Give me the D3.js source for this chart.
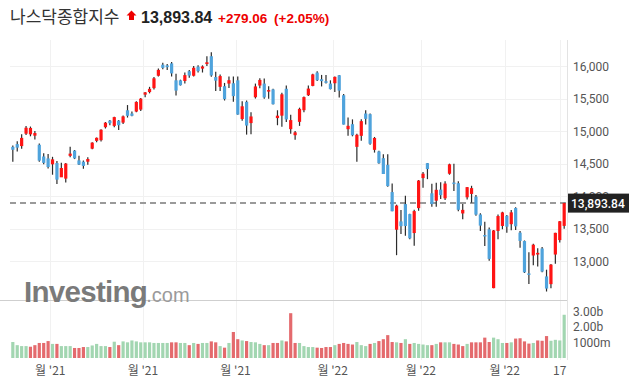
<!DOCTYPE html>
<html><head><meta charset="utf-8">
<script src="https://cdn.jsdelivr.net/npm/d3@7"></script>
<style>body{margin:0;background:#fff}svg{display:block}</style>
</head><body><svg id="c" width="634" height="388"></svg>
<script>
const dates = [
"2021-09-20","2021-09-21","2021-09-22","2021-09-23","2021-09-24","2021-09-27","2021-09-28","2021-09-29","2021-09-30",
"2021-10-01","2021-10-04","2021-10-05","2021-10-06","2021-10-07","2021-10-08","2021-10-11","2021-10-12","2021-10-13","2021-10-14","2021-10-15","2021-10-18","2021-10-19","2021-10-20","2021-10-21","2021-10-22","2021-10-25","2021-10-26","2021-10-27","2021-10-28","2021-10-29",
"2021-11-01","2021-11-02","2021-11-03","2021-11-04","2021-11-05","2021-11-08","2021-11-09","2021-11-10","2021-11-11","2021-11-12","2021-11-15","2021-11-16","2021-11-17","2021-11-18","2021-11-19","2021-11-22","2021-11-23","2021-11-24","2021-11-26","2021-11-29","2021-11-30",
"2021-12-01","2021-12-02","2021-12-03","2021-12-06","2021-12-07","2021-12-08","2021-12-09","2021-12-10","2021-12-13","2021-12-14","2021-12-15","2021-12-16","2021-12-17","2021-12-20","2021-12-21","2021-12-22","2021-12-23","2021-12-27","2021-12-28","2021-12-29","2021-12-30","2021-12-31",
"2022-01-03","2022-01-04","2022-01-05","2022-01-06","2022-01-07","2022-01-10","2022-01-11","2022-01-12","2022-01-13","2022-01-14","2022-01-18","2022-01-19","2022-01-20","2022-01-21","2022-01-24","2022-01-25","2022-01-26","2022-01-27","2022-01-28","2022-01-31",
"2022-02-01","2022-02-02","2022-02-03","2022-02-04","2022-02-07","2022-02-08","2022-02-09","2022-02-10","2022-02-11","2022-02-14","2022-02-15","2022-02-16","2022-02-17","2022-02-18","2022-02-22","2022-02-23","2022-02-24","2022-02-25","2022-02-28",
"2022-03-01","2022-03-02","2022-03-03","2022-03-04","2022-03-07","2022-03-08","2022-03-09","2022-03-10","2022-03-11","2022-03-14","2022-03-15","2022-03-16","2022-03-17","2022-03-18"];

const open = [14758,14800,14770,14960,14950,14930,14790,14610,14580,
14490,14510,14290,14270,14620,14700,14550,14530,14530,14730,14850,14860,15060,15160,15080,15160,15130,15320,15270,15300,15330,
15560,15600,15660,15850,16020,16010,16040,15780,15780,15770,15920,15850,15990,15960,16030,16150,15830,15680,15690,15730,15735,
15780,15185,15450,15123,15520,15700,15730,15610,15640,15200,15237,15650,15030,14937,15142,15321,15551,15694,15899,15797,15766,15730,
15735,15858,15551,15029,15106,14758,14927,15270,15260,14712,14687,14584,14482,14063,13485,13613,13879,13725,13434,13817,
14278,14508,14045,13931,14102,13967,14345,14210,14200,13735,13983,14035,13993,13719,13404,13492,12588,13466,13543,
13699,13570,13818,13440,13311,12814,13089,13104,13197,12768,12649,13104,13326,13544];
const high = [14779,14843,14950,15080,15070,15000,14810,14660,14650,
14605,14540,14514,14510,14760,14710,14620,14550,14600,14830,14900,15030,15140,15170,15220,15170,15240,15400,15300,15460,15510,
15600,15680,15830,15960,16050,16030,16060,15880,15790,15900,15940,16000,16010,16010,16150,16212,15910,15870,15740,15840,15840,
15840,15460,15470,15290,15730,15810,15808,15689,15650,15320,15590,15700,15250,15000,15360,15530,15700,15880,15920,15863,15860,15780,
15840,15860,15570,15209,15180,14960,15183,15321,15270,14910,14700,14646,14646,14196,13870,13787,14006,13730,13790,14250,
14370,14510,14190,14205,14216,14230,14500,14500,14230,13880,14140,14160,14020,13740,13606,13520,13480,13720,13761,
13710,13787,13830,13466,13320,13140,13270,13200,13220,12871,12959,13440,13620,13900];
const low = [14530,14686,14730,14940,14920,14870,14530,14490,14427,
14330,14186,14299,14210,14600,14570,14480,14420,14484,14720,14830,14840,15040,15090,15060,15018,15110,15208,15230,15290,15310,
15520,15580,15640,15840,15950,15940,15840,15548,15700,15730,15820,15840,15900,15900,16000,15834,15616,15616,15470,15663,15450,
15252,15159,14946,14951,15500,15660,15497,15497,15408,15090,15067,15140,14960,14866,15080,15290,15540,15690,15770,15686,15730,15640,
15600,15515,15100,14928,14920,14529,14851,15100,14789,14670,14500,14340,14145,13770,13094,13418,13393,13340,13239,13776,
14130,14262,13838,13838,13957,13940,14330,14080,13770,13647,13950,13900,13700,13466,13234,13010,12587,13337,13492,
13440,13476,13480,13207,12820,12650,12939,12920,12830,12536,12587,12964,13290,13500];
const close = [14713,14746,14896,15052,15048,14970,14546,14512,14448,
14566,14255,14433,14501,14654,14580,14486,14465,14571,14823,14897,15021,15129,15121,15215,15090,15226,15235,15235,15448,15498,
15595,15649,15811,15940,15971,15982,15886,15622,15704,15860,15853,15973,15921,15993,16057,15854,15775,15845,15491,15782,15537,
15254,15381,15085,15225,15686,15786,15517,15630,15413,15237,15565,15180,15169,14981,15341,15522,15653,15871,15782,15767,15741,15645,
15833,15622,15100,15081,14936,14943,15153,15188,14806,14894,14506,14341,14155,13769,13856,13539,13542,13353,13771,14240,
14346,14417,13879,14098,14015,14194,14490,14186,13791,13790,14139,14124,13717,13548,13381,13037,13474,13695,13751,
13532,13752,13537,13313,12831,12795,13255,13130,12843,12581,12949,13437,13615,13894];
// volume in billions
const volume = [1.02,0.82,0.76,0.76,0.72,0.82,0.96,0.96,1.08,0.90,0.90,0.76,0.76,0.76,0.64,0.64,0.70,0.70,0.80,0.90,0.76,0.76,0.70,1.04,0.82,1.06,1.00,1.12,1.06,1.00,1.00,
1.00,0.96,0.96,0.96,0.96,1.00,1.00,0.96,0.96,0.82,0.96,0.90,0.96,0.96,1.06,1.00,0.76,0.66,0.96,1.66,
1.20,1.12,1.08,1.02,1.00,0.90,0.82,0.82,0.96,0.96,1.12,1.06,2.86,0.96,0.96,0.76,0.70,0.70,0.66,0.64,0.70,0.70,
0.82,0.90,0.96,0.90,0.86,1.02,0.82,0.76,0.90,0.96,1.08,1.20,1.46,1.02,1.00,0.96,1.20,0.90,0.96,0.90,
0.86,0.82,0.82,0.90,1.00,1.00,1.00,0.90,0.86,0.76,0.90,1.00,1.00,1.00,1.30,1.02,1.30,1.20,0.96,
0.96,1.00,1.24,1.26,1.06,0.92,0.96,1.12,1.10,1.40,1.10,1.16,1.12,2.76];
const priceTicks = [13000,13500,14000,14500,15000,15500,16000];
const volTicks = [1e9,2e9,3e9];
const volTickLabels = ["1000m","2.00b","3.00b"];
const xTickDates = ["2021-10-01","2021-11-01","2021-12-01","2022-01-03","2022-02-01","2022-03-01","2022-03-17"];
const xTickLabels = ["월 '21","월 '21","월 '21","월 '22","월 '22","월 '22","17"];
const lastPrice = 13893.84;

const svg = d3.select("#c");
const L = 10, R = 567;
const x = d3.scaleBand().domain(dates).range([L, R]).padding(0.28);
const step = x.step();
const y = d3.scaleLinear().domain([13000, 16000]).range([261.3, 66]);
const yv = d3.scaleLinear().domain([0, 3e9]).range([358, 311]);
const cx = d => x(d) + x.bandwidth() / 2;

const UP = "#ff1414", DOWN = "#4fa3dc";
const font = "Roboto, 'Liberation Sans', Arial, sans-serif";

// horizontal grid (price)
svg.append("g").selectAll("line").data(priceTicks).join("line")
  .attr("x1", L).attr("x2", R).attr("y1", d => Math.round(y(d)) + 0.5).attr("y2", d => Math.round(y(d)) + 0.5)
  .attr("stroke", "#f1f1f1");
// vertical grid
const gridX = xTickDates.map((d, i) => i < 6 ? x(d) - (step - x.bandwidth()) / 2 : cx(d));
svg.append("g").selectAll("line").data(gridX).join("line")
  .attr("x1", d => Math.round(d) + 0.5).attr("x2", d => Math.round(d) + 0.5).attr("y1", 40).attr("y2", 360)
  .attr("stroke", "#f1f1f1");

// volume panel separator & right axis line
svg.append("line").attr("x1", 0).attr("x2", R).attr("y1", 300.5).attr("y2", 300.5).attr("stroke", "#cfcfcf");
svg.append("line").attr("x1", R + 0.5).attr("x2", R + 0.5).attr("y1", 40).attr("y2", 360).attr("stroke", "#e3e3e3");

// watermark
const wm = svg.append("text").attr("x", 24).attr("y", 302).attr("font-family", "'Liberation Sans', Arial, sans-serif");
wm.append("tspan").text("Investing").attr("font-size", 29.5).attr("font-weight", "bold").attr("fill", "#7a7a7a").attr("letter-spacing", -0.7);
wm.append("tspan").text(".com").attr("font-size", 20).attr("fill", "#9a9a9a").attr("dx", -1);

// volume bars
const vdata = dates.map((d, i) => ({ d, v: volume[i] * 1e9, up: i === 0 ? true : close[i] >= close[i - 1] }));
svg.append("g").selectAll("rect").data(vdata).join("rect")
  .attr("x", d => x(d.d)).attr("width", x.bandwidth())
  .attr("y", d => yv(d.v)).attr("height", d => yv(0) - yv(d.v))
  .attr("fill", d => d.up ? "#a2d6b1" : "#e46a6d");

// current price dashed line
svg.append("line").attr("x1", L).attr("x2", R).attr("y1", y(lastPrice)).attr("y2", y(lastPrice))
  .attr("stroke", "#9a9a9a").attr("stroke-width", 2).attr("stroke-dasharray", "6,4");

// candles
const cdata = dates.map((d, i) => ({ d, o: open[i], h: high[i], l: low[i], c: close[i] }));
const cg = svg.append("g");
cg.selectAll("line").data(cdata).join("line")
  .attr("x1", d => cx(d.d)).attr("x2", d => cx(d.d))
  .attr("y1", d => y(d.h)).attr("y2", d => y(d.l))
  .attr("stroke", "#2b2b2b").attr("stroke-width", 1.2);
cg.selectAll("rect").data(cdata).join("rect")
  .attr("x", d => cx(d.d) - 1.6).attr("width", 3.2)
  .attr("y", d => y(Math.max(d.o, d.c)))
  .attr("height", d => Math.max(1.5, Math.abs(y(d.o) - y(d.c))))
  .attr("fill", d => d.c >= d.o ? UP : DOWN);

// price axis labels
svg.append("g").selectAll("text").data(priceTicks).join("text")
  .attr("x", 573).attr("y", d => y(d) + 4.5).text(d => d3.format(",")(d))
  .attr("font-family", font).attr("font-size", 12).attr("fill", "#555");
// last price box
svg.append("rect").attr("x", R + 1).attr("y", y(lastPrice) - 9.5).attr("width", 61).attr("height", 19).attr("fill", "#222");
svg.append("text").attr("x", 571).attr("y", y(lastPrice) + 4.5).text(d3.format(",.2f")(lastPrice))
  .attr("font-family", font).attr("font-size", 12).attr("font-weight", 500).attr("fill", "#fff");
// volume axis labels
svg.append("g").selectAll("text").data(volTicks).join("text")
  .attr("x", 573).attr("y", d => yv(d) + 4.5).text((d, i) => volTickLabels[i])
  .attr("font-family", font).attr("font-size", 12).attr("fill", "#555");
// x axis labels
svg.append("g").selectAll("text").data(xTickLabels).join("text")
  .attr("x", (d, i) => gridX[i]).attr("y", 375).attr("text-anchor", "middle").text(d => d)
  .attr("font-family", "'Noto Sans CJK KR', Roboto, sans-serif").attr("font-size", 12).attr("fill", "#555");

// title
svg.append("text").attr("x", 10).attr("y", 22.5).text("나스닥종합지수")
  .attr("font-family", "'Noto Sans CJK KR', sans-serif").attr("font-size", 17).attr("fill", "#333");
svg.append("path").attr("d", "M131.5,10.5 L136.5,15.5 L134,15.5 L134,20 L129,20 L129,15.5 L126.5,15.5 Z").attr("fill", "#e00");
svg.append("text").attr("x", 141).attr("y", 22.5).text("13,893.84")
  .attr("font-family", "'Liberation Sans', Arial, sans-serif").attr("font-weight", "bold").attr("font-size", 16).attr("fill", "#222");
svg.append("text").attr("x", 218).attr("y", 22.5).text("+279.06")
  .attr("font-family", "'Liberation Sans', Arial, sans-serif").attr("font-weight", "bold").attr("font-size", 13.5).attr("fill", "#e00");
svg.append("text").attr("x", 274).attr("y", 22.5).text("(+2.05%)")
  .attr("font-family", "'Liberation Sans', Arial, sans-serif").attr("font-weight", "bold").attr("font-size", 13.5).attr("fill", "#e00");
</script></body></html>
